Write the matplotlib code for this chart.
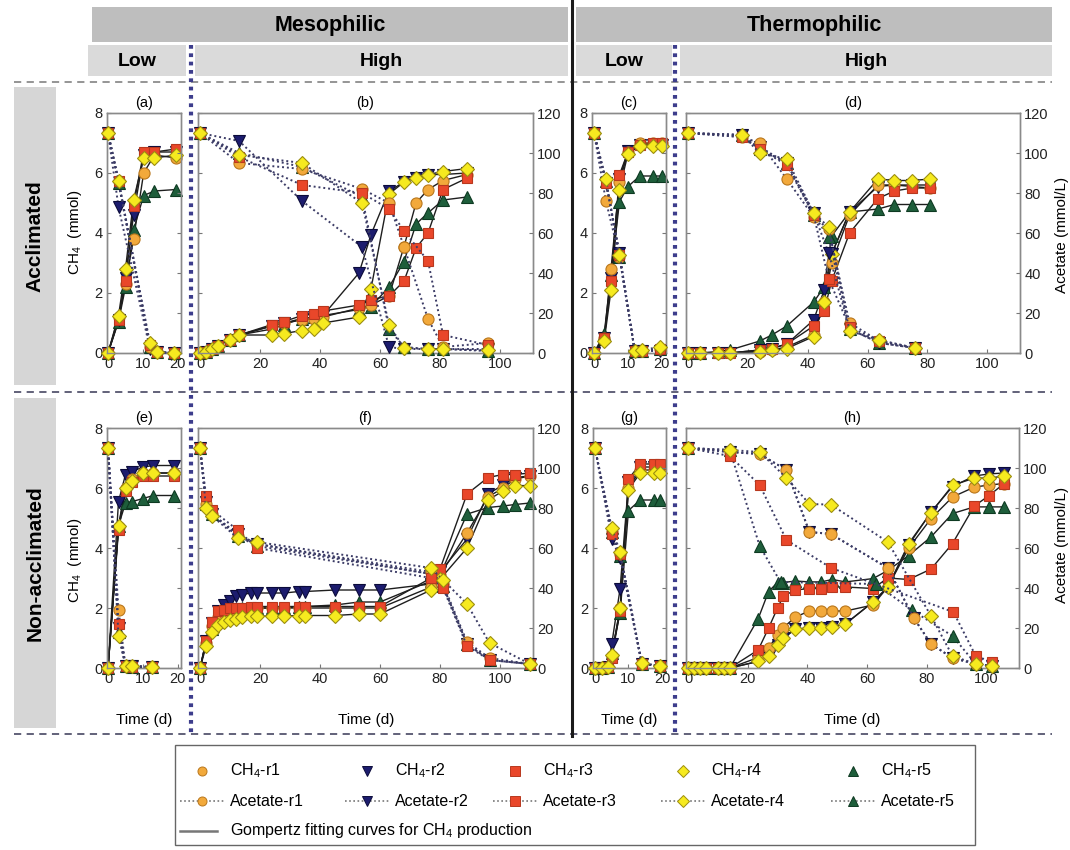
import matplotlib
matplotlib.use('Agg')
import matplotlib.pyplot as plt
from matplotlib.patches import Rectangle

plt.rcParams['font.family'] = ['Liberation Sans', 'DejaVu Sans']
plt.rcParams['mathtext.fontset'] = 'custom'
plt.rcParams['mathtext.rm'] = 'Liberation Sans'
plt.rcParams['mathtext.it'] = 'Liberation Sans:italic'
plt.rcParams['mathtext.bf'] = 'Liberation Sans:bold'

# ---------------- data (CH4 in mmol, acetate in mmol/L), order r1..r5 ----------------
# (a) mesophilic, low, acclimated
t_ch4_a = [0, 3, 5, 7.3, 10.2, 13.3, 19.5]
ch4_a = [[0, 1.2, 2.3, 3.8, 6.0, 6.6, 6.5],
         [0, 1.1, 2.5, 4.6, 6.6, 6.7, 6.7],
         [0, 1.1, 2.4, 4.9, 6.7, 6.7, 6.8],
         [0, 1.25, 2.8, 5.1, 6.5, 6.5, 6.6],
         [0, 1.05, 2.2, 4.1, 5.25, 5.4, 5.45]]
t_ac_a = [0, 3, 12, 14, 19]
ac_a = [[110, 86, 3, 0.5, 0],
        [110, 73, 2, 0.5, 0],
        [110, 86, 4, 0.5, 0],
        [110, 86, 5, 0.5, 0],
        [110, 85, 3, 0.5, 0]]

# (b) mesophilic, high, acclimated
t_ch4_b = [0, 2, 4, 6, 10, 13, 24, 28, 34, 38, 41, 53, 57, 63, 68, 72, 76, 81, 89]
ch4_b = [[0, 0.05, 0.15, 0.25, 0.45, 0.6, 0.9, 1.0, 1.1, 1.15, 1.2, 1.5, 1.6, 1.9, 3.55, 5.0, 5.45, 5.75, 5.95],
         [0, 0.05, 0.15, 0.25, 0.45, 0.6, 0.9, 1.0, 1.15, 1.2, 1.25, 2.67, 3.95, 5.4, 5.7, 5.85, 5.95, 5.95, 6.0],
         [0, 0.05, 0.15, 0.25, 0.45, 0.6, 0.95, 1.05, 1.25, 1.3, 1.4, 1.6, 1.78, 1.9, 2.4, 3.5, 4.0, 5.45, 5.83],
         [0, 0.05, 0.15, 0.25, 0.45, 0.6, 0.6, 0.65, 0.75, 0.8, 1.0, 1.2, 2.15, 5.3, 5.7, 5.85, 5.95, 6.05, 6.15],
         [0, 0.05, 0.15, 0.25, 0.45, 0.6, 0.8, 0.95, 1.15, 1.2, 1.25, 1.45, 1.55, 2.2, 3.05, 4.3, 4.67, 5.1, 5.2]]
t_ac_b = [0, 13, 34, 54, 63, 68, 76, 81, 96]
ac_b = [[110, 95, 92, 82, 75, 53, 17, 3, 5],
        [110, 106, 76, 53, 3, 2, 2, 2, 2],
        [110, 98, 84, 80, 72, 61, 46, 9, 4],
        [110, 99, 95, 75, 14, 2.5, 2, 2, 1.3],
        [110, 100, 93, 78, 12, 3, 2, 2, 1]]

# (c) thermophilic, low, acclimated
t_ch4_c = [0, 3, 5, 7.5, 10, 13.5, 17.5, 20]
ch4_c = [[0, 0.5, 2.8, 5.7, 6.7, 7.0, 7.0, 7.0],
         [0, 0.5, 2.5, 5.8, 6.75, 6.95, 6.95, 6.95],
         [0, 0.5, 2.4, 5.95, 6.7, 6.95, 7.0, 7.0],
         [0, 0.4, 2.1, 5.45, 6.65, 6.9, 6.9, 6.9],
         [0, 0.65, 2.6, 5.05, 5.55, 5.9, 5.9, 5.9]]
t_ac_c = [0, 3.5, 7.5, 12, 14, 19.5]
ac_c = [[110, 76, 48, 1, 1, 2],
        [110, 85, 50, 1, 1, 1],
        [110, 85, 49, 1, 1, 2],
        [110, 87, 49, 1, 1.5, 3],
        [110, 86, 48, 1, 1, 2]]

# (d) thermophilic, high, acclimated
t_ch4_d = [0, 4, 10, 14, 24, 28, 33, 42, 45.5, 48, 54, 63.5, 69, 75, 81]
ch4_d = [[0, 0, 0, 0, 0.05, 0.1, 0.2, 0.6, 1.7, 3.0, 4.6, 5.6, 5.6, 5.55, 5.5],
         [0, 0, 0, 0, 0.1, 0.15, 0.3, 1.1, 2.1, 3.3, 4.7, 5.55, 5.6, 5.6, 5.6],
         [0, 0, 0, 0, 0.1, 0.15, 0.3, 0.9, 1.4, 2.4, 4.0, 5.15, 5.4, 5.5, 5.5],
         [0, 0, 0, 0, 0.05, 0.1, 0.15, 0.55, 1.7, 3.3, 4.7, 5.8, 5.75, 5.75, 5.8],
         [0, 0, 0.05, 0.1, 0.4, 0.6, 0.9, 1.7, 2.2, 3.9, 4.7, 4.8, 4.95, 4.95, 4.95]]
t_ac_d = [0, 18, 24, 33, 42, 47, 54, 64, 76]
ac_d = [[110, 108, 105, 87, 68, 62, 15, 6, 2.5],
        [110, 109, 103, 95, 70, 50, 12, 5, 2.5],
        [110, 108, 102, 94, 69, 37, 13, 6, 2.5],
        [110, 109, 100, 97, 70, 63, 11, 6.5, 2.5],
        [110, 109, 102, 95, 69, 58, 12, 5, 2.5]]

# (e) mesophilic, low, non-acclimated
t_ch4_e = [0, 3, 5, 7, 10, 13, 19]
ch4_e = [[0, 4.7, 6.0, 6.3, 6.5, 6.5, 6.5],
         [0, 5.55, 6.45, 6.55, 6.7, 6.75, 6.75],
         [0, 4.6, 5.9, 6.2, 6.4, 6.4, 6.4],
         [0, 4.75, 6.0, 6.25, 6.5, 6.5, 6.5],
         [0, 4.75, 5.5, 5.55, 5.65, 5.75, 5.75]]
t_ac_e = [0, 3, 5, 7, 12.5]
ac_e = [[110, 29, 1, 1, 0.5],
        [110, 20, 1, 1, 0.5],
        [110, 22, 1, 0.5, 0.5],
        [110, 16, 1, 1, 0.5],
        [110, 18, 1, 0.5, 0.5]]

# (f) mesophilic, high, non-acclimated
t_ch4_f = [0, 2, 4, 6, 8, 10, 12, 14, 17, 19, 24, 28, 33, 35, 45, 53, 60, 77, 80, 89, 96, 101, 105, 110]
ch4_f = [[0, 0.85, 1.4, 1.7, 1.85, 1.9, 1.95, 1.95, 2.0, 2.0, 2.0, 2.0, 2.0, 2.0, 2.0, 2.0, 2.0, 2.7, 3.1, 4.5, 5.7, 6.0, 6.3, 6.4],
         [0, 0.9, 1.5, 1.9, 2.1, 2.25, 2.4, 2.45, 2.5, 2.5, 2.5, 2.5, 2.55, 2.55, 2.6, 2.6, 2.6, 2.8, 3.2, 4.3, 5.8, 6.1, 6.35, 6.4],
         [0, 0.9, 1.55, 1.9, 1.95, 2.0, 2.0, 2.0, 2.05, 2.05, 2.05, 2.05, 2.05, 2.05, 2.05, 2.05, 2.05, 3.0, 3.3, 5.8, 6.35, 6.45, 6.45, 6.5],
         [0, 0.73, 1.2, 1.45, 1.55, 1.6, 1.65, 1.7, 1.72, 1.73, 1.73, 1.73, 1.75, 1.75, 1.75, 1.8, 1.8, 2.6, 2.96, 4.0, 5.6, 5.9, 6.08, 6.08],
         [0, 0.9, 1.3, 1.6, 1.8, 1.9, 1.95, 2.0, 2.0, 2.0, 2.0, 2.0, 2.05, 2.05, 2.1, 2.2, 2.2, 2.9, 3.1, 5.13, 5.35, 5.4, 5.45, 5.5]]
t_ac_f = [0, 2, 4, 12.5, 19, 77, 81, 89, 96.5, 110]
ac_f = [[110, 82, 77, 66, 62, 48, 42, 13, 5, 2],
        [110, 83, 77, 67, 62, 47, 41, 12, 4, 2],
        [110, 86, 79, 69, 60, 45, 40, 11, 4, 2],
        [110, 80, 76, 65, 63, 50, 44, 32, 12.5, 2],
        [110, 82, 77, 66, 61, 47, 41, 12, 4, 2]]

# (g) thermophilic, low, non-acclimated
t_ch4_g = [0, 2, 4, 5, 7.5, 10, 13.5, 17.5, 19.5]
ch4_g = [[0, 0, 0.05, 0.4, 2.0, 6.0, 6.6, 6.6, 6.6],
         [0, 0, 0.05, 0.8, 2.65, 6.2, 6.7, 6.7, 6.7],
         [0, 0, 0.05, 0.35, 1.9, 6.3, 6.8, 6.8, 6.8],
         [0, 0, 0.05, 0.45, 2.0, 5.95, 6.5, 6.5, 6.5],
         [0, 0, 0.05, 0.5, 1.85, 5.25, 5.6, 5.6, 5.6]]
t_ac_g = [0, 5, 7.5, 14, 19.5]
ac_g = [[110, 68, 57, 2, 1],
        [110, 64.5, 55, 2, 1],
        [110, 67, 57, 2, 1],
        [110, 70, 58, 2.5, 1],
        [110, 68, 56, 2, 1]]

# (h) thermophilic, high, non-acclimated
t_ch4_h = [0, 2, 4, 6, 10, 12, 14, 23.5, 27, 30, 32, 36, 40.7, 44.6, 48.4, 52.8, 62, 67, 74, 81.5, 88.7, 96, 101, 106]
ch4_h = [[0, 0, 0, 0, 0, 0, 0, 0.35, 0.67, 1.1, 1.35, 1.7, 1.9, 1.9, 1.9, 1.9, 2.1, 2.7, 4.0, 4.98, 5.7, 6.03, 6.1, 6.15],
         [0, 0, 0, 0, 0, 0, 0, 0.22, 0.4, 0.78, 1.0, 1.3, 1.33, 1.35, 1.37, 1.47, 2.2, 2.7, 4.1, 5.2, 6.05, 6.4, 6.47, 6.5],
         [0, 0, 0, 0, 0, 0, 0, 0.6, 1.33, 2.0, 2.4, 2.6, 2.65, 2.65, 2.7, 2.7, 2.65, 3.0, 2.95, 3.3, 4.15, 5.4, 5.75, 6.15],
         [0, 0, 0, 0, 0, 0, 0, 0.22, 0.4, 0.78, 1.0, 1.3, 1.33, 1.35, 1.37, 1.47, 2.2, 2.7, 4.15, 5.18, 6.09, 6.33, 6.33, 6.4],
         [0, 0, 0, 0, 0, 0, 0, 1.64, 2.55, 2.85, 2.85, 2.9, 2.87, 2.87, 2.95, 2.87, 2.98, 3.25, 3.75, 4.37, 5.15, 5.37, 5.37, 5.37]]
t_ac_h1 = [0, 14, 24, 33, 40.7, 47.9, 67, 75.7, 81.5, 88.7, 96.5, 102]
ac_h1 = [110, 108, 107, 99, 68, 67, 50, 25, 12, 5, 2, 1]
ac_h2 = [110, 108, 107, 99, 68, 67, 50, 25, 12, 5, 2, 1]
t_ac_h3 = [0, 14, 24, 33, 48, 89, 96.5, 102]
ac_h3 = [110, 106, 91.5, 64, 50, 28, 6, 3]
t_ac_h4 = [0, 14, 24, 33, 40.7, 47.9, 67, 81.5, 88.7, 96.5, 102]
ac_h4 = [110, 109, 108, 95, 82, 81.7, 63, 26, 6, 2, 1]
t_ac_h5 = [0, 14, 24, 31, 63, 75, 88.7, 96.5, 102]
ac_h5 = [110, 109, 61, 43, 42, 29, 16, 2, 1]

reactors = ['r1', 'r2', 'r3', 'r4', 'r5']

# ---------------- styles ----------------
face = ['#F2A93B', '#1C1C6E', '#E9472A', '#F6EA1F', '#1E5E3B']
edge = ['#B9771C', '#0B0B3A', '#B8381E', '#9C8E10', '#0E3A22']
mk = ['o', 'v', 's', 'D', '^']
ms = [8, 8.5, 7.5, 7.5, 8.5]
draw_order = [4, 1, 0, 2, 3]
dot_col = '#3C3C66'

W, H = 1070, 850
fig = plt.figure(figsize=(W / 100, H / 100), dpi=100)

# background layer in pixel coordinates
bg = fig.add_axes([0, 0, 1, 1])
bg.set_xlim(0, W)
bg.set_ylim(H, 0)
bg.axis('off')

# header bars
bg.add_patch(Rectangle((92, 7), 476, 35, fc='#BEBEBE', ec='none'))
bg.add_patch(Rectangle((576, 7), 476, 35, fc='#BEBEBE', ec='none'))
bg.text(330, 25, 'Mesophilic', ha='center', va='center', fontsize=15.5, fontweight='bold')
bg.text(814, 25, 'Thermophilic', ha='center', va='center', fontsize=15.5, fontweight='bold')
for x0, x1, lab in [(88, 186, 'Low'), (195, 568, 'High'), (576, 672, 'Low'), (680, 1052, 'High')]:
    bg.add_patch(Rectangle((x0, 45), x1 - x0, 31, fc='#DADADA', ec='none'))
    bg.text((x0 + x1) / 2, 61, lab, ha='center', va='center', fontsize=14, fontweight='bold')

# row labels
bg.add_patch(Rectangle((14, 87), 42, 298, fc='#D6D6D6', ec='none'))
bg.add_patch(Rectangle((14, 398), 42, 330, fc='#D6D6D6', ec='none'))
bg.text(35, 236, 'Acclimated', rotation=90, ha='center', va='center', fontsize=15, fontweight='bold')
bg.text(35, 563, 'Non-acclimated', rotation=90, ha='center', va='center', fontsize=15, fontweight='bold')

# separators
bg.plot([14, 1052], [82, 82], color='#8C8C8C', lw=1.3, ls=(0, (4, 3)))
bg.plot([14, 1052], [392, 392], color='#55556E', lw=1.3, ls=(0, (4, 3)))
bg.plot([14, 1052], [734, 734], color='#55556E', lw=1.3, ls=(0, (4, 3)))
for xv in [191, 675]:
    bg.plot([xv, xv], [45, 736], color='#3D3D8C', lw=3, ls=(0, (0.9, 1.1)))
bg.plot([572, 572], [0, 736], color='#1A1A1A', lw=2.2)


def px_axes(x0, x1, y0, y1):
    return fig.add_axes([x0 / W, 1 - y1 / H, (x1 - x0) / W, (y1 - y0) / H])


def panel(rect, t_c, ch4, ac_sets, xlim, xticks, title, low):
    ax = px_axes(*rect)
    ax2 = ax.twinx()
    for i in draw_order:
        ax.plot(t_c, ch4[i], '-', color='#1E1E1E', lw=1.0, zorder=2)
    for i in draw_order:
        ax.plot(t_c, ch4[i], ls='none', marker=mk[i], ms=ms[i], mfc=face[i], mec=edge[i],
                mew=0.8, clip_on=False, zorder=4)
    for i in draw_order:
        t_a, ac = ac_sets[i]
        ax2.plot(t_a, ac, ls=(0, (1, 1.5)), color=dot_col, lw=1.4, marker=mk[i], ms=ms[i],
                 mfc=face[i], mec=edge[i], mew=0.8, clip_on=False, zorder=3)
    ax.set_xlim(*xlim)
    ax.set_ylim(0, 8)
    ax2.set_ylim(0, 120)
    ax.set_xticks(xticks)
    ax.set_yticks([0, 2, 4, 6, 8])
    ax2.set_yticks([0, 20, 40, 60, 80, 100, 120])
    for a in (ax, ax2):
        for s in a.spines.values():
            s.set_color('#8A8A8A')
            s.set_linewidth(1.0)
        a.tick_params(direction='in', length=3, width=0.8, color='#777777', labelsize=10.5,
                      labelcolor='#222222', pad=3)
    ax.tick_params(axis='y', labelleft=low)
    ax2.tick_params(axis='y', labelright=not low)
    ax.set_title(title, fontsize=10.5, pad=4)
    return ax


low_meso = (-0.3, 20.9)
low_thermo = (-0.6, 21.2)
high = (-0.7, 111)

panel((107, 181, 113, 353), t_ch4_a, ch4_a, [(t_ac_a, a) for a in ac_a], low_meso, [0, 10, 20], '(a)', True)
panel((198, 533, 113, 353), t_ch4_b, ch4_b, [(t_ac_b, a) for a in ac_b], high, [0, 20, 40, 60, 80, 100], '(b)', False)
panel((592, 666, 113, 353), t_ch4_c, ch4_c, [(t_ac_c, a) for a in ac_c], low_thermo, [0, 10, 20], '(c)', True)
panel((686, 1020, 113, 353), t_ch4_d, ch4_d, [(t_ac_d, a) for a in ac_d], high, [0, 20, 40, 60, 80, 100], '(d)', False)
panel((107, 181, 428, 668), t_ch4_e, ch4_e, [(t_ac_e, a) for a in ac_e], low_meso, [0, 10, 20], '(e)', True)
panel((198, 533, 428, 668), t_ch4_f, ch4_f, [(t_ac_f, a) for a in ac_f], high, [0, 20, 40, 60, 80, 100], '(f)', False)
panel((593, 666, 428, 668), t_ch4_g, ch4_g, [(t_ac_g, a) for a in ac_g], low_thermo, [0, 10, 20], '(g)', True)
panel((686, 1019, 428, 668), t_ch4_h, ch4_h,
      [(t_ac_h1, ac_h1), (t_ac_h1, ac_h2), (t_ac_h3, ac_h3), (t_ac_h4, ac_h4), (t_ac_h5, ac_h5)],
      high, [0, 20, 40, 60, 80, 100], '(h)', False)

# axis labels
for yc in [232, 560]:
    fig.text(75 / W, 1 - yc / H, 'CH$_4$  (mmol)', rotation=90, ha='center', va='center', fontsize=11)
for yc in [235, 545]:
    fig.text(1062 / W, 1 - yc / H, 'Acetate (mmol/L)', rotation=90, ha='center', va='center', fontsize=11)
for xc in [144, 366, 629, 852]:
    fig.text(xc / W, 1 - 720 / H, 'Time (d)', ha='center', va='center', fontsize=11)

# legend
bg.add_patch(Rectangle((175, 745), 800, 100, fc='white', ec='#666666', lw=1.0))
xm = [202, 367, 515, 683, 853]
for i in range(5):
    bg.plot([xm[i]], [771], ls='none', marker=mk[i], ms=6.5, mfc=face[i], mec=edge[i], mew=0.7)
    bg.text(xm[i] + 28, 771, 'CH$_4$-' + reactors[i], va='center', fontsize=11.5)
    bg.plot([xm[i] - 22, xm[i] + 22], [801, 801], ls=(0, (1, 1.5)), color='#777777', lw=1.2)
    bg.plot([xm[i]], [801], ls='none', marker=mk[i], ms=6.5, mfc=face[i], mec=edge[i], mew=0.7)
    bg.text(xm[i] + 28, 801, 'Acetate-' + reactors[i], va='center', fontsize=11.5)
bg.plot([180, 217], [831, 831], color='#777777', lw=1.8)
bg.text(230, 831, 'Gompertz fitting curves for CH$_4$ production', va='center', fontsize=11.5)

fig.savefig('out.png', dpi=100)
